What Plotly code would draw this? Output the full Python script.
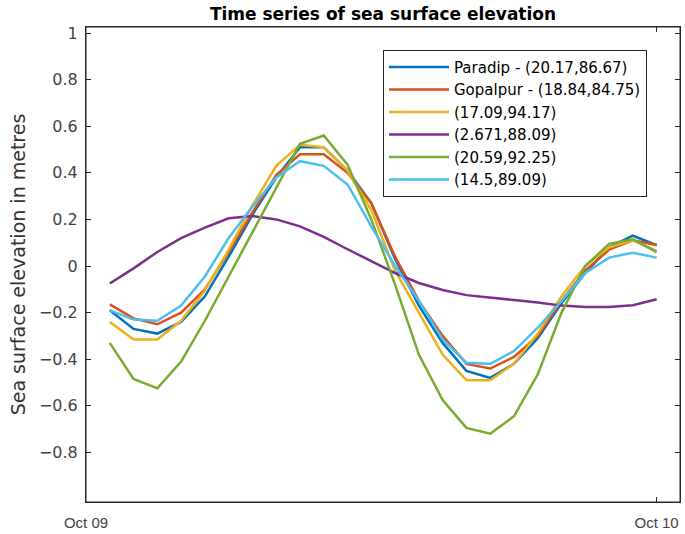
import plotly.graph_objects as go

# Hourly time stamps (Oct 09 01:00 -> Oct 10 00:00)
times = [f"2019-10-09 {h:02d}:00" for h in range(1, 24)] + ["2019-10-10 00:00"]

series_names = [
    "Paradip - (20.17,86.67)",
    "Gopalpur - (18.84,84.75)",
    "(17.09,94.17)",
    "(2.671,88.09)",
    "(20.59,92.25)",
    "(14.5,89.09)",
]

paradip = [-0.19, -0.27, -0.29, -0.24, -0.13, 0.04, 0.22, 0.38, 0.51, 0.51, 0.41, 0.27,
           0.03, -0.17, -0.33, -0.45, -0.48, -0.42, -0.31, -0.16, -0.03, 0.08, 0.13, 0.09]
gopalpur = [-0.165, -0.225, -0.25, -0.20, -0.10, 0.06, 0.23, 0.39, 0.48, 0.48, 0.40, 0.27,
            0.04, -0.15, -0.30, -0.42, -0.44, -0.39, -0.30, -0.15, -0.02, 0.07, 0.11, 0.09]
loc_17_09 = [-0.24, -0.315, -0.315, -0.235, -0.105, 0.07, 0.26, 0.43, 0.52, 0.51, 0.41, 0.24,
             -0.02, -0.20, -0.38, -0.49, -0.49, -0.42, -0.29, -0.13, 0.0, 0.08, 0.11, 0.065]
loc_2_671 = [-0.075, -0.01, 0.06, 0.12, 0.165, 0.205, 0.215, 0.20, 0.17, 0.125, 0.072, 0.02,
             -0.03, -0.073, -0.103, -0.125, -0.137, -0.146, -0.157, -0.17, -0.176, -0.176, -0.168, -0.143]
loc_20_59 = [-0.33, -0.485, -0.525, -0.41, -0.235, -0.045, 0.14, 0.33, 0.525, 0.56, 0.435, 0.20,
             -0.08, -0.38, -0.575, -0.695, -0.72, -0.645, -0.465, -0.20, 0.0, 0.095, 0.115, 0.06]
loc_14_5 = [-0.19, -0.23, -0.235, -0.17, -0.045, 0.12, 0.255, 0.38, 0.45, 0.43, 0.35, 0.17,
            0.0, -0.15, -0.315, -0.415, -0.42, -0.365, -0.265, -0.15, -0.03, 0.036, 0.057, 0.036]

all_series = [paradip, gopalpur, loc_17_09, loc_2_671, loc_20_59, loc_14_5]
colors = ["#0072BD", "#D95319", "#EDB120", "#7E2F8E", "#77AC30", "#4DBEEE"]

ytick_vals = [1, 0.8, 0.6, 0.4, 0.2, 0, -0.2, -0.4, -0.6, -0.8]
ytick_text = ["1", "0.8", "0.6", "0.4", "0.2", "0", "\u22120.2", "\u22120.4", "\u22120.6", "\u22120.8"]
xtick_vals = ["2019-10-09 00:00", "2019-10-10 00:00"]
xtick_text = ["Oct 09", "Oct 10"]

fig = go.Figure()
for name, vals, col in zip(series_names, all_series, colors):
    fig.add_trace(go.Scatter(x=times, y=vals, mode="lines", name=name,
                             line=dict(color=col, width=2.5)))

axis_common = dict(
    showline=True, linecolor="#262626", linewidth=1, mirror="ticks",
    ticks="inside", ticklen=5, tickcolor="#262626", tickwidth=1,
    showgrid=False, zeroline=False, automargin=False,
)

fig.update_layout(
    width=685, height=534,
    margin=dict(l=86, r=5, t=27, b=32, autoexpand=False),
    paper_bgcolor="white", plot_bgcolor="white",
    title=dict(text="<b>Time series of sea surface elevation</b>",
               font=dict(family="DejaVu Sans", size=17, color="#000000"),
               x=0.5, xref="paper", xanchor="center",
               y=1 - 14 / 534, yref="container", yanchor="middle"),
    xaxis=dict(
        **axis_common,
        type="date",
        range=["2019-10-09 00:00", "2019-10-10 00:59"],
        tickvals=xtick_vals, ticktext=xtick_text,
        tickfont=dict(family="Liberation Sans", size=15, color="#444444"),
        ticklabelstandoff=7,
    ),
    yaxis=dict(
        **axis_common,
        range=[-1.013, 1.026],
        tickvals=ytick_vals, ticktext=ytick_text,
        tickfont=dict(family="DejaVu Sans", size=16, color="#444444"),
        ticklabelstandoff=4,
        title=dict(text="Sea surface elevation in metres",
                   font=dict(family="DejaVu Sans", size=19, color="#333333"),
                   standoff=8),
    ),
    legend=dict(
        x=0.5, y=0.952, xanchor="left", yanchor="top",
        bgcolor="white", bordercolor="#262626", borderwidth=1,
        font=dict(family="DejaVu Sans", size=15, color="#000000"),
        tracegroupgap=0, itemwidth=60,
    ),
    showlegend=True,
    shapes=[dict(type="rect", xref="paper", yref="paper", x0=0, y0=0, x1=1, y1=1,
                 line=dict(color="#262626", width=1), fillcolor="rgba(0,0,0,0)",
                 layer="above")],
)

fig.write_html("out.html", config={"displayModeBar": False},
               post_script="document.body.style.margin='0';document.body.style.overflow='hidden';")
